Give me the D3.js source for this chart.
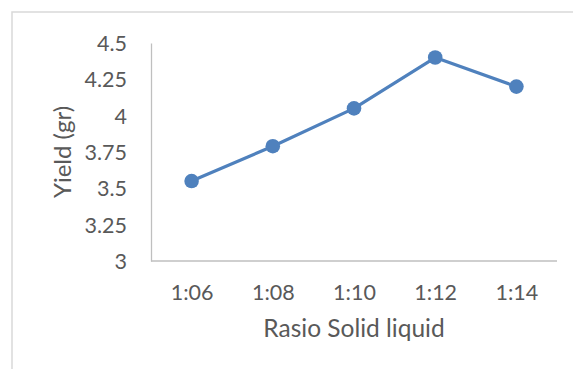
<!DOCTYPE html>
<html>
<head>
<meta charset="utf-8">
<script src="https://cdn.jsdelivr.net/npm/d3@7"></script>
<style>
  body { margin: 0; background: #fff; }
  text { font-family: Lato, "Liberation Sans", sans-serif; fill: #595959; }
</style>
</head>
<body>
<div id="chart"></div>
<script>
// data
var ratios = ["1:06", "1:08", "1:10", "1:12", "1:14"];
var yields = [3.55, 3.79, 4.05, 4.40, 4.20];
var yTicks = [3, 3.25, 3.5, 3.75, 4, 4.25, 4.5];

var width = 573,
    height = 369;

var plot = {left: 151, right: 557, top: 43, bottom: 261};

var svg = d3.select("#chart").append("svg")
    .attr("width", width)
    .attr("height", height);

// chart frame (only top and left edges show)
svg.append("path")
    .attr("d", "M12,369V12H573")
    .attr("fill", "none")
    .attr("stroke", "#d9d9d9")
    .attr("stroke-width", 1.5);

var x = d3.scalePoint()
    .domain(ratios)
    .range([plot.left, plot.right])
    .padding(0.5);

var y = d3.scaleLinear()
    .domain([3, 4.5])
    .range([plot.bottom, plot.top]);

// axes
svg.append("g")
    .attr("transform", "translate(0," + plot.bottom + ")")
    .call(d3.axisBottom(x).tickSize(0).tickPadding(24))
    .call(function(g) {
      g.select(".domain").attr("stroke", "#bfbfbf").attr("stroke-width", 1.3)
        .attr("d", "M" + plot.left + ",0H" + plot.right);
      g.selectAll("text").attr("font-size", "21.5px").attr("fill", "#595959")
        .attr("dy", null).attr("y", 39);
    });

svg.append("g")
    .attr("transform", "translate(" + plot.left + ",0)")
    .call(d3.axisLeft(y).tickValues(yTicks).tickSize(0).tickPadding(24).tickFormat(d3.format("")))
    .call(function(g) {
      g.select(".domain").attr("stroke", "#bfbfbf").attr("stroke-width", 1.3);
      g.selectAll("text").attr("font-size", "21.5px").attr("fill", "#595959")
        .attr("dy", "0.35em");
    });

// axis titles
svg.append("text")
    .attr("x", (plot.left + plot.right) / 2)
    .attr("y", 337)
    .attr("text-anchor", "middle")
    .attr("font-size", "24.5px")
    .text("Rasio Solid liquid");

svg.append("text")
    .attr("transform", "translate(71," + 152 + ") rotate(-90)")
    .attr("text-anchor", "middle")
    .attr("font-size", "24px")
    .text("Yield (gr)");

// series
var line = d3.line()
    .x(function(d, i) { return x(ratios[i]); })
    .y(function(d) { return y(d); });

svg.append("path")
    .datum(yields)
    .attr("d", line)
    .attr("fill", "none")
    .attr("stroke", "#4f81bd")
    .attr("stroke-width", 3.2)
    .attr("stroke-linejoin", "round");

svg.selectAll("circle")
    .data(yields)
    .enter().append("circle")
    .attr("cx", function(d, i) { return x(ratios[i]); })
    .attr("cy", function(d) { return y(d); })
    .attr("r", 7.3)
    .attr("fill", "#4f81bd");
</script>
</body>
</html>
